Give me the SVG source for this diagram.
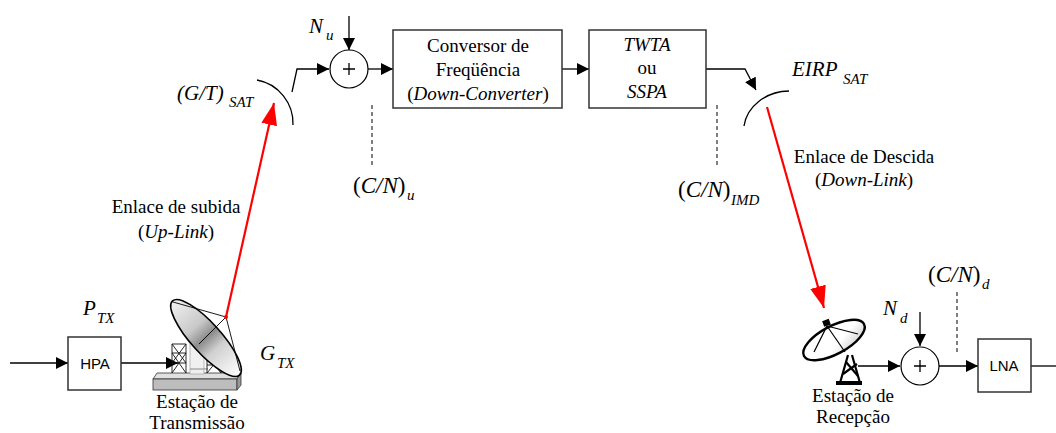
<svg xmlns="http://www.w3.org/2000/svg" width="1056" height="433" viewBox="0 0 1056 433">
  <style>
    .box { fill: #fff; stroke: #333; stroke-width: 1.5; }
    .wire { fill: none; stroke: #000; stroke-width: 1.3; }
    .dash { fill: none; stroke: #000; stroke-width: 1; stroke-dasharray: 4 3; }
    .link { fill: none; stroke: #f00; stroke-width: 2.2; }
    text { font-family: 'Liberation Serif', 'Times New Roman', serif; fill: #000; }
    .t { font-size: 19px; }
    .m { font-size: 21px; }
    .cn { font-size: 23px; }
    .i { font-style: italic; }
    .sub { font-size: 15px; font-style: italic; }
    .s { font-family: 'Liberation Sans', Arial, sans-serif; font-size: 15px; }
    .mid { text-anchor: middle; }
  </style>
  <defs>
    <marker id="arr" markerUnits="userSpaceOnUse" markerWidth="14" markerHeight="12" refX="12" refY="6" orient="auto">
      <path d="M0,0 L12,6 L0,12 Z" fill="#000"/>
    </marker>
    <marker id="redarr" markerUnits="userSpaceOnUse" markerWidth="24" markerHeight="16" refX="22" refY="8" orient="auto">
      <path d="M0,0 L22,8 L0,16 Z" fill="#f00"/>
    </marker>
    <linearGradient id="dishTx" x1="0" y1="0" x2="1" y2="0">
      <stop offset="0" stop-color="#f2f2f2"/>
      <stop offset="0.35" stop-color="#c8c8c8"/>
      <stop offset="0.5" stop-color="#8c8c8c"/>
      <stop offset="0.65" stop-color="#d0d0d0"/>
      <stop offset="1" stop-color="#ffffff"/>
    </linearGradient>
    <linearGradient id="dishRx" x1="0" y1="0" x2="1" y2="1">
      <stop offset="0" stop-color="#ffffff"/>
      <stop offset="0.6" stop-color="#ffffff"/>
      <stop offset="1" stop-color="#c4c4c4"/>
    </linearGradient>
  </defs>

  <!-- connectors -->
  <g id="connectors">
    <!-- satellite chain -->
    <polyline class="wire" points="292,92 297,69 329,69" marker-end="url(#arr)"/>
    <line class="wire" x1="349" y1="16" x2="349" y2="50" marker-end="url(#arr)"/>
    <line class="wire" x1="368" y1="69" x2="393" y2="69" marker-end="url(#arr)"/>
    <line class="wire" x1="562" y1="69" x2="589" y2="69" marker-end="url(#arr)"/>
    <polyline class="wire" points="706,69 745,69 756,90" marker-end="url(#arr)"/>
    <line class="dash" x1="372" y1="105" x2="372" y2="166"/>
    <line class="dash" x1="717" y1="105" x2="717" y2="166"/>
    <!-- transmit side -->
    <line class="wire" x1="10" y1="363" x2="68" y2="363" marker-end="url(#arr)"/>
    <line class="wire" x1="121" y1="363" x2="178" y2="363" marker-end="url(#arr)"/>
    <!-- receive side -->
    <line class="wire" x1="858" y1="366" x2="900" y2="366" marker-end="url(#arr)"/>
    <line class="wire" x1="920" y1="312" x2="920" y2="346" marker-end="url(#arr)"/>
    <line class="wire" x1="939" y1="366" x2="978" y2="366" marker-end="url(#arr)"/>
    <line class="wire" x1="1031" y1="366" x2="1056" y2="366"/>
    <line class="dash" x1="957" y1="292" x2="957" y2="353"/>
    <!-- radio links -->
    <line class="link" x1="226" y1="317" x2="274" y2="103" marker-end="url(#redarr)"/>
    <line class="link" x1="767" y1="107" x2="824" y2="308" marker-end="url(#redarr)"/>
  </g>

  <!-- satellite receive antenna -->
  <g id="sat-rx-antenna">
    <path class="wire" d="M257,80 A44,44 0 0 1 293,125" stroke-width="1.6"/>
    <text class="m i" x="177" y="100">(G/T)</text>
    <text class="sub" x="229" y="107">SAT</text>
  </g>

  <!-- uplink noise summation -->
  <g id="sum-up">
    <circle cx="349" cy="69" r="19" fill="#fff" stroke="#000" stroke-width="1.2"/>
    <path d="M343,69 H355 M349,63 V75" stroke="#000" stroke-width="1.3"/>
    <text class="m i" x="309" y="33">N</text>
    <text class="sub" x="326" y="40">u</text>
  </g>

  <!-- frequency converter -->
  <g id="converter">
    <rect class="box" x="393" y="30" width="169" height="78"/>
    <text class="t mid" x="478" y="52">Conversor de</text>
    <text class="t mid" x="478" y="76">Freqüência</text>
    <text class="t mid" x="478" y="100">(<tspan class="i">Down-Converter</tspan>)</text>
  </g>

  <!-- power amplifier -->
  <g id="amplifier">
    <rect class="box" x="589" y="30" width="117" height="78"/>
    <text class="t i mid" x="647" y="51">TWTA</text>
    <text class="t mid" x="647" y="74">ou</text>
    <text class="t i mid" x="647" y="98">SSPA</text>
  </g>

  <!-- satellite transmit antenna -->
  <g id="sat-tx-antenna">
    <path class="wire" d="M744,126 A46,40 0 0 1 789,91" stroke-width="1.6"/>
    <text class="m i" x="792" y="76">EIRP</text>
    <text class="sub" x="843" y="84">SAT</text>
  </g>

  <!-- carrier-to-noise reference points -->
  <g id="cn-labels">
    <text class="cn" x="353" y="193">(<tspan class="i">C/N</tspan>)</text>
    <text class="sub" x="407" y="200">u</text>
    <text class="cn" x="678" y="197">(<tspan class="i">C/N</tspan>)</text>
    <text class="sub" x="731" y="205">IMD</text>
    <text class="cn" x="928" y="282">(<tspan class="i">C/N</tspan>)</text>
    <text class="sub" x="982" y="289">d</text>
  </g>

  <!-- link labels -->
  <g id="link-labels">
    <text class="t mid" x="176" y="213">Enlace de subida</text>
    <text class="t mid" x="176" y="238">(<tspan class="i">Up-Link</tspan>)</text>
    <text class="t mid" x="864" y="163">Enlace de Descida</text>
    <text class="t mid" x="864" y="186">(<tspan class="i">Down-Link</tspan>)</text>
  </g>

  <!-- high power amplifier -->
  <g id="hpa">
    <rect class="box" x="68" y="337" width="53" height="53"/>
    <text class="s mid" x="95" y="369">HPA</text>
    <text class="m i" x="83" y="315">P</text>
    <text class="sub" x="97" y="323">TX</text>
  </g>

  <!-- transmitting earth station -->
  <g id="tx-station">
    <!-- base slab -->
    <polygon points="157,373 241,373 237,379 153,379" fill="#e0e0e0" stroke="#333" stroke-width="0.8"/>
    <rect x="153" y="379" width="84" height="11" fill="#bdbdbd" stroke="#333" stroke-width="0.8"/>
    <polygon points="237,379 241,373 241,385 237,390" fill="#9a9a9a" stroke="#333" stroke-width="0.8"/>
    <!-- pedestal -->
    <rect x="190" y="340" width="14" height="34" fill="#f0f0f0" stroke="#aaa" stroke-width="0.8"/>
    <line x1="190" y1="369" x2="208" y2="369" stroke="#888" stroke-width="1"/>
    <!-- lattice towers -->
    <g fill="none" stroke="#111" stroke-width="0.9">
      <path d="M172,344 V373 M186,344 V373 M172,344 H186 M172,353 H186 M172,363 H186 M172,344 L186,363 M186,344 L172,363 M172,353 L186,373 M186,353 L172,373"/>
      <path d="M207,356 V373 M221,356 V373 M207,356 H221 M207,365 H221 M207,356 L221,373 M221,356 L207,373"/>
    </g>
    <!-- reflector -->
    <ellipse cx="206" cy="338" rx="50" ry="15" transform="rotate(48 206 338)" fill="url(#dishTx)" stroke="#000" stroke-width="1.6"/>
    <!-- feed struts -->
    <g stroke="#000" stroke-width="0.9" fill="none">
      <line x1="173" y1="302" x2="226" y2="317"/>
      <line x1="226" y1="317" x2="240" y2="371"/>
      <line x1="226" y1="317" x2="199" y2="344"/>
    </g>
    <circle cx="226" cy="317" r="2" fill="#f00"/>
    <text class="t mid" x="197" y="408">Estação de</text>
    <text class="t mid" x="197" y="429">Transmissão</text>
    <text class="m i" x="260" y="360">G</text>
    <text class="sub" x="277" y="368">TX</text>
  </g>

  <!-- receiving earth station -->
  <g id="rx-station">
    <!-- stand -->
    <g stroke="#000" stroke-width="2.2" fill="none">
      <line x1="848" y1="355" x2="840" y2="383"/>
      <line x1="852" y1="355" x2="860" y2="383"/>
      <line x1="843" y1="374" x2="857" y2="364"/>
      <line x1="846" y1="362" x2="858" y2="376"/>
    </g>
    <rect x="836" y="381" width="26" height="4" fill="#000"/>
    <!-- reflector -->
    <ellipse cx="834" cy="340" rx="34" ry="14" transform="rotate(-28 834 340)" fill="url(#dishRx)" stroke="#000" stroke-width="2.4"/>
    <!-- feed struts -->
    <g stroke="#000" stroke-width="1.2" fill="none">
      <line x1="827" y1="326" x2="814" y2="352"/>
      <line x1="827" y1="326" x2="845" y2="352"/>
      <line x1="827" y1="326" x2="858" y2="334"/>
    </g>
    <rect x="823" y="320" width="7" height="6" fill="#000" transform="rotate(-20 826 323)"/>
    <text class="t mid" x="853" y="402">Estação de</text>
    <text class="t mid" x="853" y="423">Recepção</text>
  </g>

  <!-- downlink noise summation -->
  <g id="sum-down">
    <circle cx="920" cy="366" r="19" fill="#fff" stroke="#000" stroke-width="1.2"/>
    <path d="M914,366 H926 M920,360 V372" stroke="#000" stroke-width="1.3"/>
    <text class="m i" x="883" y="315">N</text>
    <text class="sub" x="900" y="323">d</text>
  </g>

  <!-- low noise amplifier -->
  <g id="lna">
    <rect class="box" x="978" y="339" width="53" height="53"/>
    <text class="s mid" x="1004" y="371">LNA</text>
  </g>
</svg>
